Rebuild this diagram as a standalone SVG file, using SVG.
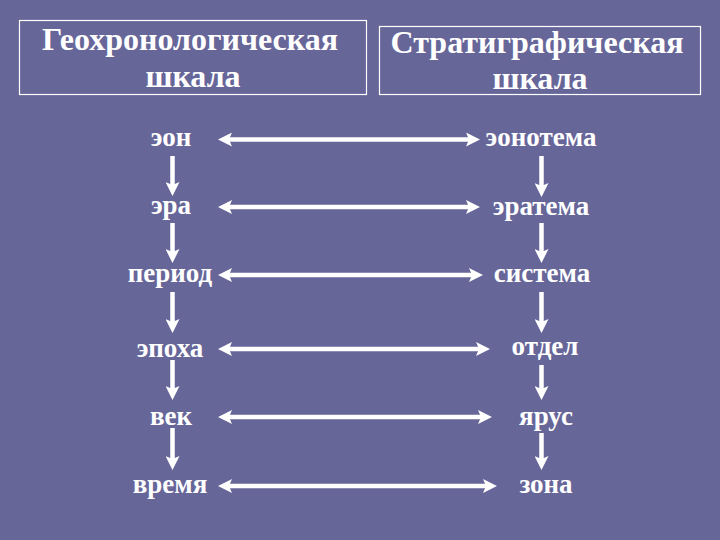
<svg xmlns="http://www.w3.org/2000/svg" width="720" height="540" viewBox="0 0 720 540">
<style>
.t{font-family:'Liberation Serif','DejaVu Serif',serif;font-weight:bold;fill:#ffffff;text-anchor:middle}
.h{font-size:32px}
.r{font-size:27px}
.box{fill:none;stroke:#ffffff;stroke-width:1.2}
.c{stroke:#ffffff;stroke-width:4.5;fill:none}
</style>
<defs>
<marker id="ah" viewBox="0 -7 14 14" refX="4" refY="0" markerWidth="14" markerHeight="14" markerUnits="userSpaceOnUse" orient="auto-start-reverse">
<path d="M0,-7 L14,0 L0,7 L3,0 Z" fill="#ffffff"/>
</marker>
</defs>
<rect width="720" height="540" fill="#676699"/>
<g id="header-geo">
<rect class="box" x="19.5" y="20.5" width="347" height="74"/>
<text class="t h" x="190" y="50">Геохронологическая</text>
<text class="t h" x="193" y="87">шкала</text>
</g>
<g id="header-strat">
<rect class="box" x="379.5" y="26.5" width="321" height="68"/>
<text class="t h" x="537" y="53">Стратиграфическая</text>
<text class="t h" x="540" y="89">шкала</text>
</g>
<g id="n-eon"><text class="t r" x="171" y="146">эон</text></g>
<g id="n-era"><text class="t r" x="171" y="214">эра</text></g>
<g id="n-period"><text class="t r" x="170" y="282">период</text></g>
<g id="n-epoch"><text class="t r" x="170" y="357">эпоха</text></g>
<g id="n-vek"><text class="t r" x="171" y="425">век</text></g>
<g id="n-time"><text class="t r" x="170" y="493">время</text></g>
<g id="n-eonothem"><text class="t r" x="541" y="146">эонотема</text></g>
<g id="n-erathem"><text class="t r" x="541" y="215">эратема</text></g>
<g id="n-system"><text class="t r" x="542" y="282">система</text></g>
<g id="n-series"><text class="t r" x="545" y="355">отдел</text></g>
<g id="n-stage"><text class="t r" x="546" y="425">ярус</text></g>
<g id="n-zone"><text class="t r" x="546" y="493">зона</text></g>
<g id="connectors">
<line class="c" x1="228" y1="139.5" x2="470" y2="139.5" marker-start="url(#ah)" marker-end="url(#ah)"/>
<line class="c" x1="228" y1="207" x2="470" y2="207" marker-start="url(#ah)" marker-end="url(#ah)"/>
<line class="c" x1="228" y1="275" x2="473" y2="275" marker-start="url(#ah)" marker-end="url(#ah)"/>
<line class="c" x1="228" y1="349" x2="480" y2="349" marker-start="url(#ah)" marker-end="url(#ah)"/>
<line class="c" x1="228" y1="417" x2="482" y2="417" marker-start="url(#ah)" marker-end="url(#ah)"/>
<line class="c" x1="228" y1="486" x2="487" y2="486" marker-start="url(#ah)" marker-end="url(#ah)"/>
<line class="c" x1="172.5" y1="156" x2="172.5" y2="186" marker-end="url(#ah)"/>
<line class="c" x1="172.5" y1="223" x2="172.5" y2="253" marker-end="url(#ah)"/>
<line class="c" x1="172.5" y1="292" x2="172.5" y2="323" marker-end="url(#ah)"/>
<line class="c" x1="172.5" y1="360" x2="172.5" y2="390" marker-end="url(#ah)"/>
<line class="c" x1="172.5" y1="428" x2="172.5" y2="460" marker-end="url(#ah)"/>
<line class="c" x1="541.5" y1="156" x2="541.5" y2="187" marker-end="url(#ah)"/>
<line class="c" x1="541.5" y1="223" x2="541.5" y2="253" marker-end="url(#ah)"/>
<line class="c" x1="541.5" y1="292" x2="541.5" y2="323" marker-end="url(#ah)"/>
<line class="c" x1="541.5" y1="365" x2="541.5" y2="390" marker-end="url(#ah)"/>
<line class="c" x1="541.5" y1="433" x2="541.5" y2="460" marker-end="url(#ah)"/>
</g>
</svg>
